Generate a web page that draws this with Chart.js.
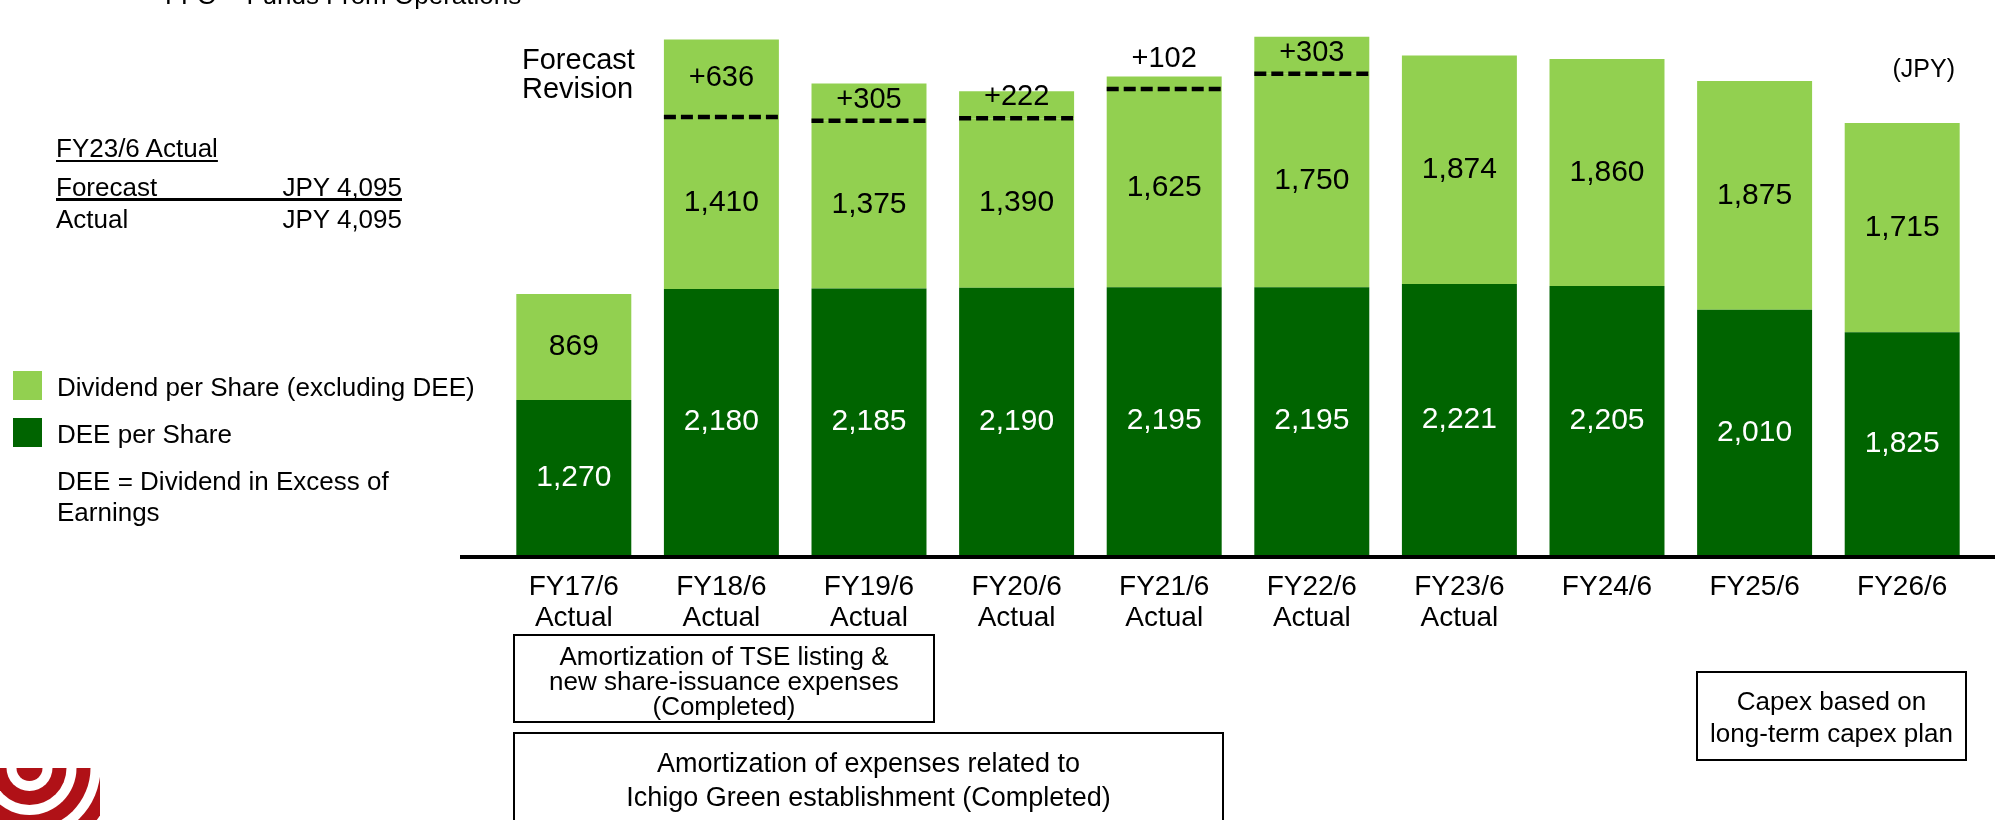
<!DOCTYPE html>
<html>
<head>
<meta charset="utf-8">
<script src="https://cdn.jsdelivr.net/npm/chart.js@4.4.1/dist/chart.umd.min.js"></script>
<style>
  html, body { margin: 0; padding: 0; background: #fff; }
  body { width: 1995px; height: 820px; overflow: hidden; position: relative;
         font-family: "Liberation Sans", Arial, sans-serif; color: #000; }
  #chart { position: absolute; left: 0; top: 0; }
  #logo { position: absolute; left: 0; top: 768px; }
  .txt { position: absolute; white-space: nowrap; font-size: 26px; line-height: 30px; }
  .box { position: absolute; border: 2px solid #000; box-sizing: border-box;
         text-align: center; white-space: nowrap; }
  .swatch { position: absolute; left: 13px; width: 29px; height: 29px; }
</style>
</head>
<body>
<canvas id="chart" width="1995" height="820"></canvas>
<canvas id="logo" width="100" height="52"></canvas>

<div class="txt" style="left:165px; top:-20px;">FFO = Funds From Operations</div>

<div class="txt" style="left:56px; top:133px; text-decoration:underline; text-underline-offset:3px; text-decoration-thickness:2px;">FY23/6 Actual</div>
<div class="txt" style="left:56px; top:172px; width:346px; display:flex; justify-content:space-between;"><span>Forecast</span><span>JPY 4,095</span></div>
<div style="position:absolute; left:56px; top:198px; width:346px; height:3px; background:#000;"></div>
<div class="txt" style="left:56px; top:204px; width:346px; display:flex; justify-content:space-between;"><span>Actual</span><span>JPY 4,095</span></div>

<div id="legend"></div>
<div class="txt" style="left:57px; top:466px; line-height:31px;">DEE = Dividend in Excess of<br>Earnings</div>

<div class="txt" style="left:522px; top:45px; font-size:29px; line-height:29px;">Forecast<br>Revision</div>
<div class="txt" style="right:40px; top:53px; font-size:25px;">(JPY)</div>

<div class="box" style="left:513px; top:634px; width:422px; height:89px; padding-top:8px; font-size:26px; line-height:25px;">Amortization of TSE listing &amp;<br>new share-issuance expenses<br>(Completed)</div>
<div class="box" style="left:513px; top:732px; width:711px; height:100px; padding-top:12px; font-size:27px; line-height:34px;">Amortization of expenses related to<br>Ichigo Green establishment (Completed)</div>
<div class="box" style="left:1696px; top:671px; width:271px; height:90px; padding-top:12px; font-size:26px; line-height:32px;">Capex based on<br>long-term capex plan</div>

<script>
const categories = [
  ["FY17/6", "Actual"], ["FY18/6", "Actual"], ["FY19/6", "Actual"], ["FY20/6", "Actual"],
  ["FY21/6", "Actual"], ["FY22/6", "Actual"], ["FY23/6", "Actual"],
  "FY24/6", "FY25/6", "FY26/6"
];
const deePerShare = [1270, 2180, 2185, 2190, 2195, 2195, 2221, 2205, 2010, 1825];
const dividendExDee = [869, 1410, 1375, 1390, 1625, 1750, 1874, 1860, 1875, 1715];
const forecastRevision = [null, 636, 305, 222, 102, 303, null, null, null, null];

const seriesNames = ["DEE per Share", "Dividend per Share (excluding DEE)", "Forecast Revision"];
const darkGreen = "#006400";
const lightGreen = "#92D050";
const fontFamily = "'Liberation Sans', Arial, sans-serif";

// legend on the left, light series first like the original
const legend = document.getElementById("legend");
[[seriesNames[1], lightGreen, 371], [seriesNames[0], darkGreen, 418]].forEach(([name, color, top]) => {
  const sw = document.createElement("div");
  sw.className = "swatch";
  sw.style.top = top + "px";
  sw.style.background = color;
  legend.appendChild(sw);
  const t = document.createElement("div");
  t.className = "txt";
  t.style.left = "57px";
  t.style.top = (top + 1) + "px";
  t.textContent = name;
  legend.appendChild(t);
});

// labels, dashed forecast lines and the base line
const overlay = {
  id: "overlay",
  afterDatasetsDraw(chart) {
    const ctx = chart.ctx;
    const area = chart.chartArea;
    ctx.save();

    ctx.strokeStyle = "#000";
    ctx.lineWidth = 4;
    ctx.beginPath();
    ctx.moveTo(area.left - 40, area.bottom + 2);
    ctx.lineTo(chart.width, area.bottom + 2);
    ctx.stroke();

    ctx.textAlign = "center";
    ctx.textBaseline = "middle";
    ctx.font = "30px " + fontFamily;

    chart.getDatasetMeta(0).data.forEach((bar, i) => {
      ctx.fillStyle = "#fff";
      ctx.fillText(deePerShare[i].toLocaleString("en-US"), bar.x, (bar.y + bar.base) / 2);
    });
    chart.getDatasetMeta(1).data.forEach((bar, i) => {
      ctx.fillStyle = "#000";
      ctx.fillText(dividendExDee[i].toLocaleString("en-US"), bar.x, (bar.y + bar.base) / 2);
    });
    ctx.font = "29px " + fontFamily;
    chart.getDatasetMeta(2).data.forEach((bar, i) => {
      const v = forecastRevision[i];
      if (v == null) return;
      ctx.save();
      ctx.setLineDash([12, 5]);
      ctx.lineWidth = 4.5;
      ctx.strokeStyle = "#000";
      ctx.beginPath();
      ctx.moveTo(bar.x - bar.width / 2, bar.base);
      ctx.lineTo(bar.x + bar.width / 2, bar.base);
      ctx.stroke();
      ctx.restore();
      // keep the label clear of the dashed line; tiny segments get it above the bar
      const h = bar.base - bar.y;
      const y = h >= 20 ? Math.min((bar.y + bar.base) / 2, bar.base - 21) : bar.y - 18;
      ctx.fillStyle = "#000";
      ctx.fillText("+" + v, bar.x, y);
    });
    ctx.restore();
  }
};

new Chart(document.getElementById("chart"), {
  type: "bar",
  data: {
    labels: categories,
    datasets: [
      { label: seriesNames[0], data: deePerShare, backgroundColor: darkGreen },
      { label: seriesNames[1], data: dividendExDee, backgroundColor: lightGreen },
      { label: seriesNames[2], data: forecastRevision, backgroundColor: lightGreen }
    ].map((d) => Object.assign(d, { barPercentage: 0.779, categoryPercentage: 1, borderWidth: 0 }))
  },
  options: {
    responsive: false,
    animation: false,
    layout: { padding: { left: 500, right: 19, top: 6, bottom: 0 } },
    plugins: { legend: { display: false }, tooltip: { enabled: false } },
    scales: {
      x: {
        stacked: true,
        grid: { display: false, drawTicks: false },
        border: { display: false },
        ticks: {
          color: "#000",
          padding: 17,
          maxRotation: 0,
          autoSkip: false,
          font: { family: fontFamily, size: 28, lineHeight: 1.1 }
        },
        afterFit(scale) { scale.height = 265; }
      },
      y: { stacked: true, display: false, min: 0, max: 4500 }
    }
  },
  plugins: [overlay]
});

// red ring logo in the bottom-left corner
const lg = document.getElementById("logo").getContext("2d");
const ringEdges = [95, 85, 71, 61, 47, 37, 23, 13];
ringEdges.forEach((r, i) => {
  lg.fillStyle = i % 2 === 0 ? "#fff" : "#B01117";
  lg.beginPath();
  lg.arc(29.5, 0, r, 0, Math.PI * 2);
  lg.fill();
});
</script>
</body>
</html>
